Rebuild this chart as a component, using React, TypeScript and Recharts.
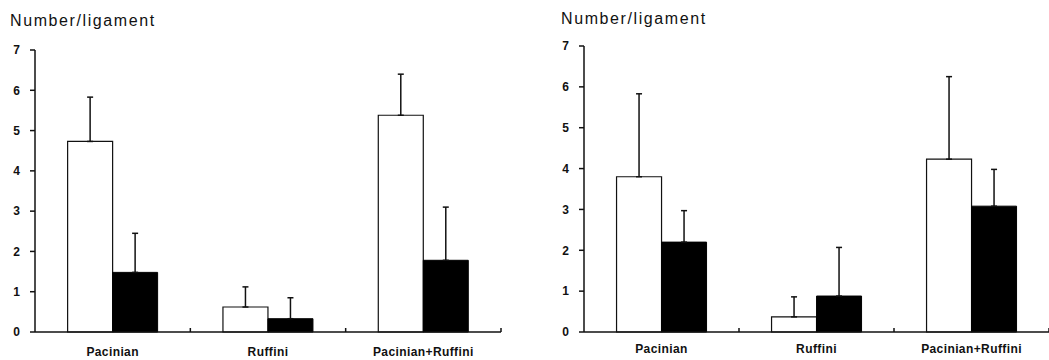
import React from 'react';
import { BarChart, Bar, XAxis, YAxis, ErrorBar } from 'recharts';

const categories = ['Pacinian', 'Ruffini', 'Pacinian+Ruffini'];
const yTicks = [0, 1, 2, 3, 4, 5, 6, 7];

// left panel
const leftOpenMeans = [4.73, 0.62, 5.38];
const leftOpenErr = [1.1, 0.5, 1.02];
const leftFilledMeans = [1.48, 0.33, 1.78];
const leftFilledErr = [0.97, 0.52, 1.32];

// right panel
const rightOpenMeans = [3.8, 0.37, 4.23];
const rightOpenErr = [2.03, 0.49, 2.02];
const rightFilledMeans = [2.2, 0.88, 3.08];
const rightFilledErr = [0.77, 1.19, 0.9];

const FONT = '"Liberation Sans", Arial, Helvetica, sans-serif';

const buildRows = (om: number[], oe: number[], fm: number[], fe: number[]) =>
  categories.map((name, i) => ({
    name,
    open: om[i],
    openErr: [0, oe[i]],
    filled: fm[i],
    filledErr: [0, fe[i]],
  }));

const CatTick = (props: any) => {
  const { x, y, payload, band, dy } = props;
  return (
    <g>
      <text x={x} y={y + dy} textAnchor="middle" fontSize={12} fontWeight="bold" letterSpacing={0.4} fill="#111" fontFamily={FONT}>
        {payload.value}
      </text>
      <line x1={x + band / 2} x2={x + band / 2} y1={y - 4} y2={y} stroke="#111" strokeWidth={1.5} />
    </g>
  );
};

interface PanelProps {
  rows: any[];
  width: number;
  top: number;
  right: number;
  labelDy: number;
}

const Panel: React.FC<PanelProps> = ({ rows, width, top, right, labelDy }) => {
  const plotW = width - 35 - right;
  return (
    <BarChart
      width={width}
      height={360}
      data={rows}
      margin={{ top, right, bottom: 0, left: 10 }}
      barCategoryGap="21%"
      barGap={0}
    >
      <XAxis
        dataKey="name"
        height={28}
        tickSize={0}
        tickMargin={0}
        tickLine={false}
        axisLine={{ stroke: '#111', strokeWidth: 1.5 }}
        interval={0}
        tick={(p: any) => <CatTick {...p} band={plotW / 3} dy={labelDy} />}
      />
      <YAxis
        width={25}
        domain={[0, 7]}
        ticks={yTicks}
        interval={0}
        tickSize={5}
        tickMargin={10}
        axisLine={{ stroke: '#111', strokeWidth: 1.5 }}
        tickLine={{ stroke: '#111', strokeWidth: 1.5 }}
        tick={{ fill: '#111', fontSize: 12, fontWeight: 'bold', fontFamily: FONT }}
      />
      <Bar dataKey="open" fill="#fff" stroke="#111" strokeWidth={1.2} isAnimationActive={false}>
        <ErrorBar dataKey="openErr" width={3} stroke="#111" strokeWidth={1.5} direction="y" />
      </Bar>
      <Bar dataKey="filled" fill="#000" stroke="#000" strokeWidth={1} isAnimationActive={false}>
        <ErrorBar dataKey="filledErr" width={3} stroke="#111" strokeWidth={1.5} direction="y" />
      </Bar>
    </BarChart>
  );
};

const titleStyle: React.CSSProperties = {
  position: 'absolute',
  fontFamily: FONT,
  fontSize: 16,
  lineHeight: '16px',
  letterSpacing: 1.6,
  color: '#111',
  whiteSpace: 'nowrap',
};

export default function App() {
  const leftRows = buildRows(leftOpenMeans, leftOpenErr, leftFilledMeans, leftFilledErr);
  const rightRows = buildRows(rightOpenMeans, rightOpenErr, rightFilledMeans, rightFilledErr);
  return (
    <div style={{ position: 'absolute', left: 0, top: 0, width: 1049, height: 360, background: '#fff', overflow: 'hidden' }}>
      <div style={{ ...titleStyle, left: 10, top: 13 }}>Number/ligament</div>
      <div style={{ ...titleStyle, left: 561, top: 11 }}>Number/ligament</div>
      <div style={{ position: 'absolute', left: 0, top: 0 }}>
        <Panel rows={leftRows} width={520} top={50} right={19} labelDy={24} />
      </div>
      <div style={{ position: 'absolute', left: 549, top: 0 }}>
        <Panel rows={rightRows} width={500} top={46} right={0} labelDy={21} />
      </div>
    </div>
  );
}
